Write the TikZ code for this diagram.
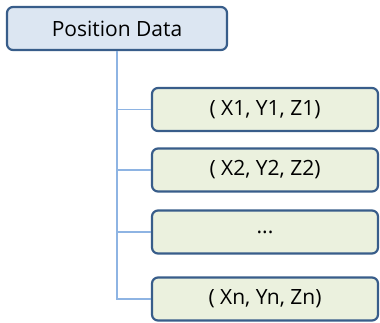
\documentclass[tikz,border=0pt]{standalone}
\usepackage{fontspec}
\setmainfont{Open Sans}
\begin{document}
\begin{tikzpicture}[x=1pt,y=-1pt,
  boxframe/.style={draw=boxline,line width=2.2pt,rounded corners=6pt,inner sep=0pt,font=\fontsize{21}{25}\selectfont},
  rootbox/.style={boxframe,fill=rootfill,minimum width=220pt,minimum height=43pt},
  itembox/.style={boxframe,fill=itemfill,minimum width=226pt,minimum height=43pt},
  link/.style={draw=linkblue,line width=1.3pt}]
\definecolor{boxline}{HTML}{385D8A}
\definecolor{rootfill}{HTML}{DCE6F2}
\definecolor{itemfill}{HTML}{EBF1DE}
\definecolor{linkblue}{HTML}{8EB4E3}
\useasboundingbox (0,0) rectangle (380,322);
\node[rootbox] (root) at (117,28.5) {Position Data};
\node[itembox] (p1) at (265,109.5) {( X1, Y1, Z1)};
\node[itembox] (p2) at (265,170) {( X2, Y2, Z2)};
\node[itembox] (p3) at (265,232) {...};
\node[itembox] (pn) at (265,299) {( Xn, Yn, Zn)};
\foreach \n in {p1,p2,p3,pn}
  \draw[link] (root.south) |- (\n.west);
\end{tikzpicture}
\end{document}
